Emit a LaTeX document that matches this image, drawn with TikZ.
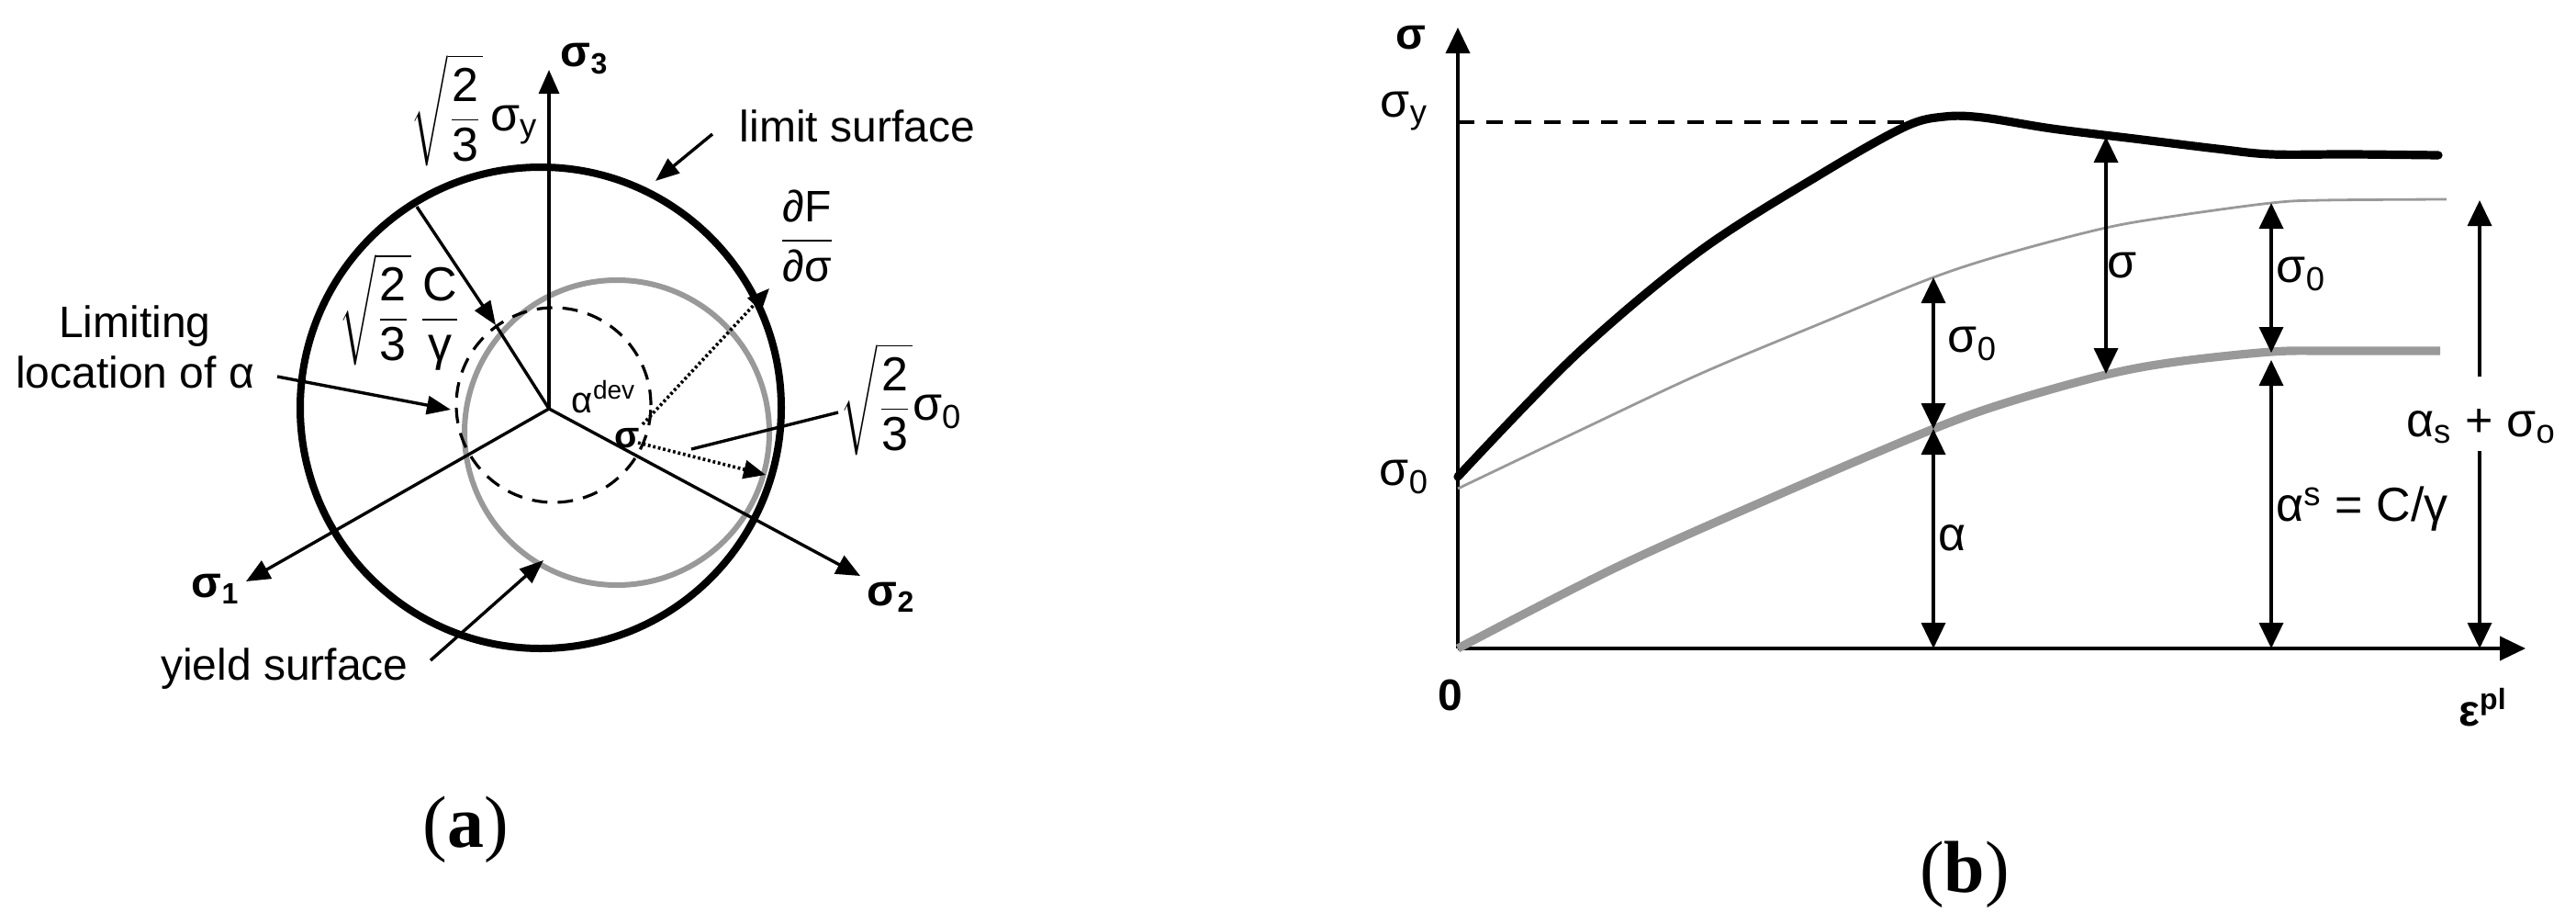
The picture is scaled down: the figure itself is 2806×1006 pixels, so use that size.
\documentclass[tikz,border=0pt]{standalone}
\usepackage{fontspec}
\setmainfont{Liberation Sans}
\newfontfamily\capfont{Liberation Serif}
\usetikzlibrary{arrows.meta}
\begin{document}
\begin{tikzpicture}[x=0.25pt,y=-0.25pt,
  lbl/.style={inner sep=0pt, font=\fontsize{12}{13.75}\selectfont},
  sqlbl/.style={inner sep=0pt, font=\fontsize{13}{15}\selectfont},
  blbl/.style={inner sep=0pt, font=\fontsize{13}{15}\selectfont},
  axlbl/.style={inner sep=0pt, font=\fontsize{12}{14}\selectfont\bfseries},
  caplbl/.style={inner sep=0pt, font=\capfont\fontsize{20}{24}\selectfont},
  axisA/.style={line width=0.85pt, -{Triangle[length=6.5pt,width=5.5pt]}},
  ptr/.style={line width=0.85pt, -{Triangle[length=6.5pt,width=5pt]}},
  dotarr/.style={line width=0.9pt, dash pattern=on 0.7pt off 0.7pt, -{Triangle[length=6pt,width=5pt]}},
  dimarr/.style={line width=0.9pt, {Triangle[length=7pt,width=6.5pt]}-{Triangle[length=7pt,width=6.5pt]}},
  onearr/.style={line width=0.9pt, -{Triangle[length=7pt,width=6.5pt]}},
  axisB/.style={line width=0.9pt, -{Triangle[length=7pt,width=6.5pt]}},
  greyc/.style={draw=black!40},
]
\useasboundingbox (0,0) rectangle (2806,1006);

%% ---------------- (a) ----------------
\coordinate (O) at (598,445);
\coordinate (Cbig) at (589,444);
\coordinate (Cgrey) at (672,471);
\coordinate (Cdash) at (603,441);
\draw[greyc, line width=1.5pt] (Cgrey) circle[radius=41.5pt];
\draw[line width=0.8pt, dash pattern=on 4.2pt off 2.8pt] (Cdash) circle[radius=26.5pt];
\draw[line width=2pt] (Cbig) circle[radius=65.5pt];

\coordinate (s3tip) at (598,76);
\coordinate (s1tip) at (268,633);
\coordinate (s2tip) at (937,627);
\draw[axisA] (O) -- (s3tip);
\draw[axisA] (O) -- (s1tip);
\draw[axisA] (O) -- (s2tip);
\node[axlbl] (s3lbl) at (637,64) {σ\textsubscript{3}};
\node[axlbl] (s1lbl) at (235,641) {σ\textsubscript{1}};
\node[axlbl] (s2lbl) at (971,650) {σ\textsubscript{2}};

% radius line with C/gamma
\coordinate (cg1) at (454,225);
\coordinate (cg2) at (540,354);
\draw[ptr] (cg1) -- (cg2);
\draw[line width=0.85pt] (cg2) -- (O);

% labels
\node[sqlbl] (lsqy) at (517,120) {$\displaystyle\sqrt{\frac{\mbox{2}}{\mbox{3}}}\,\mbox{σ\textsubscript{y}}$};
\node[sqlbl] (lsqc) at (436,340) {$\displaystyle\sqrt{\frac{\mbox{2}}{\mbox{3}}}\,\frac{\mbox{C}}{\mbox{γ}}$};
\node[sqlbl] (lsq0) at (982,435) {$\displaystyle\sqrt{\frac{\mbox{2}}{\mbox{3}}}\mbox{σ\textsubscript{0}}$};
\node[lbl] (ldfds) at (879,257) {$\displaystyle\frac{\mbox{∂F}}{\mbox{∂σ}}$};

\node[lbl] (llimit) at (934,137) {limit surface};
\coordinate (limA) at (776,146);
\coordinate (limB) at (714,197);
\draw[ptr] (limA) -- (limB);

\node[lbl] (lyield) at (310,728) {yield surface};
\coordinate (yA) at (469,719);
\coordinate (yB) at (592,610);
\draw[ptr] (yA) -- (yB);

\node[lbl, align=center] (lloc) at (147,378) {Limiting\\location of α};
\coordinate (locA) at (302,410);
\coordinate (locB) at (491,446);
\draw[ptr] (locA) -- (locB);

\node[inner sep=0pt, font=\fontsize{10}{12}\selectfont] (ladev) at (658,432) {α\textsuperscript{dev}};
\node[inner sep=0pt, font=\fontsize{10}{12}\selectfont\bfseries] (lsigpt) at (683,477) {σ};

\coordinate (dS1) at (700,462);
\coordinate (dT1) at (838,314);
\draw[dotarr] (dS1) -- (dT1);
\coordinate (dS2) at (695,482);
\coordinate (dT2) at (834,517);
\draw[dotarr] (dS2) -- (dT2);
\coordinate (sq0A) at (913,449);
\coordinate (sq0B) at (753,489);
\draw[line width=0.85pt] (sq0A) -- (sq0B);

\node[caplbl] (capa) at (507,903) {(\textbf{a})};

%% ---------------- (b) ----------------
\coordinate (Ob) at (1588,706);
\coordinate (ytip) at (1588,30);
\coordinate (xtip) at (2751,706);
\draw[axisB] (Ob) -- (ytip);
\draw[axisB] (Ob) -- (xtip);
\coordinate (syA) at (1588,133);
\coordinate (syB) at (2080,133);
\draw[line width=0.9pt, dash pattern=on 4.5pt off 3.3pt] (syA) -- (syB);

\draw[line width=2.3pt, line cap=round] plot[smooth, tension=0.55] coordinates {(1588,519) (1718,385) (1852,273) (1986,188) (2075,138) (2118,127) (2160,128) (2235,140) (2325,151) (2415,162) (2474,168) (2560,168) (2656,169)};
\draw[greyc, line width=0.7pt] plot[smooth, tension=0.55] coordinates {(1588,532) (1718,470) (1852,407) (1986,351) (2106,302) (2190,275) (2294,248) (2370,235) (2474,221) (2530,218) (2665,217)};
\draw[greyc, line width=2.3pt] plot[smooth, tension=0.55] coordinates {(1588,706) (1762,617) (1941,537) (2106,467) (2190,437) (2294,408) (2370,394) (2474,383) (2540,382) (2658,382)};

\coordinate (a1t) at (2106,302);
\coordinate (a1m) at (2106,467);
\coordinate (a1b) at (2106,706);
\draw[dimarr] (a1t) -- (a1m);
\draw[dimarr] (a1m) -- (a1b);
\coordinate (a2t) at (2294,149);
\coordinate (a2b) at (2294,407);
\draw[dimarr] (a2t) -- (a2b);
\coordinate (a3t) at (2474,221);
\coordinate (a3m) at (2474,384);
\coordinate (a3n) at (2474,392);
\coordinate (a3b) at (2474,706);
\draw[dimarr] (a3t) -- (a3m);
\draw[dimarr] (a3n) -- (a3b);
\coordinate (a4t) at (2701,218);
\coordinate (a4u) at (2701,410);
\coordinate (a4l) at (2701,491);
\coordinate (a4b) at (2701,706);
\draw[onearr] (a4u) -- (a4t);
\draw[onearr] (a4l) -- (a4b);

\node[blbl] (b1) at (2149,374) {σ\textsubscript{0}};
\node[blbl] (b2) at (2127,586) {α};
\node[blbl] (b3) at (2312,289) {σ};
\node[blbl] (b4) at (2507,298) {σ\textsubscript{0}};
\node[blbl] (b5) at (2573,554) {α\textsuperscript{s} = C/γ};
\node[blbl] (b6) at (2703,464) {α\textsubscript{s} + σ\textsubscript{o}};
\node[blbl] (bsy) at (1530,121) {σ\textsubscript{y}};
\node[blbl] (bs0) at (1530,519) {σ\textsubscript{0}};
\node[axlbl] (bsig) at (1537,41) {σ};
\node[axlbl] (bzero) at (1580,757) {0};
\node[axlbl] (beps) at (2705,770) {ε\textsuperscript{pl}};

\node[caplbl] (capb) at (2140,952) {(\textbf{b})};
\end{tikzpicture}
\end{document}
